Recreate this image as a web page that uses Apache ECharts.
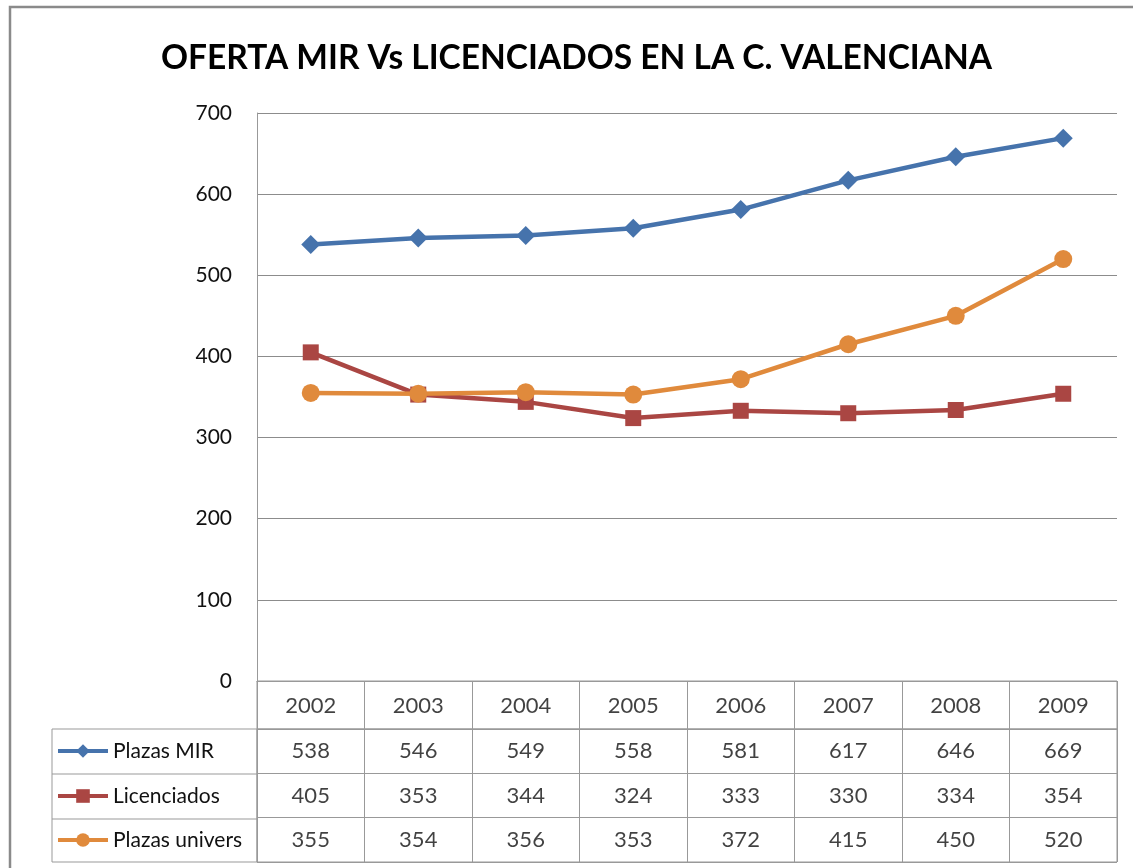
<!DOCTYPE html>
<html>
<head>
<meta charset="utf-8">
<script src="https://cdn.jsdelivr.net/npm/echarts@6/dist/echarts.min.js"></script>
<style>
  html, body { margin: 0; padding: 0; background: #fff; }
  #main { width: 1133px; height: 868px; }
</style>
</head>
<body>
<div id="main"></div>
<script>
var years = ['2002', '2003', '2004', '2005', '2006', '2007', '2008', '2009'];
var seriesNames = ['Plazas MIR', 'Licenciados', 'Plazas univers'];
var plazasMir = [538, 546, 549, 558, 581, 617, 646, 669];
var licenciados = [405, 353, 344, 324, 333, 330, 334, 354];
var plazasUnivers = [355, 354, 356, 353, 372, 415, 450, 520];
var yTicks = [0, 100, 200, 300, 400, 500, 600, 700];

var colors = ['#4673AC', '#AA4643', '#E08A3C'];
var symbols = ['diamond', 'rect', 'circle'];
var symbolSizes = [19, 16, 18];
var FONT = 'Lato, "Open Sans", sans-serif';
var gridColor = '#8c8c8c';

var myChart = echarts.init(document.getElementById('main'));

var allValues = [plazasMir, licenciados, plazasUnivers];

// celdas de la tabla de datos
var headerCells = [];
for (var i = 0; i < years.length; i++) {
  headerCells.push([years[i], 'h', years[i]]);
}
var bodyCells = [];
for (var s = 0; s < seriesNames.length; s++) {
  for (var i = 0; i < years.length; i++) {
    bodyCells.push([years[i], seriesNames[s], allValues[s][i]]);
  }
}

var lineSeries = [];
for (var s = 0; s < seriesNames.length; s++) {
  lineSeries.push({
    name: seriesNames[s],
    type: 'line',
    xAxisIndex: 0,
    yAxisIndex: 0,
    data: allValues[s],
    symbol: symbols[s],
    symbolSize: symbolSizes[s],
    showSymbol: true,
    lineStyle: { width: 4.5, color: colors[s] },
    itemStyle: { color: colors[s] },
    z: 3 + s
  });
}

var cellLabel = {
  show: true,
  position: 'inside',
  fontFamily: FONT,
  fontSize: 22,
  color: '#111',
  formatter: function (p) { return p.value[2]; }
};

var legends = [];
var legendTops = [739, 784, 828];
for (var s = 0; s < seriesNames.length; s++) {
  legends.push({
    data: [seriesNames[s]],
    left: 56,
    top: legendTops[s],
    padding: 0,
    itemWidth: 50,
    itemHeight: 17,
    itemGap: 3,
    lineStyle: { width: 4 },
    textStyle: { fontFamily: FONT, fontSize: 21, color: '#111', lineHeight: 24 }
  });
}

myChart.setOption({
  animation: false,
  backgroundColor: '#fff',
  color: colors,
  title: {
    text: 'OFERTA MIR Vs LICENCIADOS EN LA C. VALENCIANA',
    left: 161,
    top: 41,
    padding: 0,
    textStyle: { fontFamily: FONT, fontSize: 33.5, fontWeight: 'bold', color: '#000' }
  },
  legend: legends,
  grid: [
    { left: 257, right: 16, top: 113, bottom: 187 },
    { left: 257, right: 16, top: 681, height: 48, show: true, borderColor: '#999', borderWidth: 1 },
    { left: 257, right: 16, top: 729, height: 133, show: true, borderColor: '#999', borderWidth: 1 }
  ],
  xAxis: [
    {
      type: 'category', gridIndex: 0, data: years, boundaryGap: true,
      axisLine: { show: true, lineStyle: { color: '#999', width: 1 } },
      axisTick: { show: false }, axisLabel: { show: false }, splitLine: { show: false }
    },
    {
      type: 'category', gridIndex: 1, data: years, boundaryGap: true,
      axisLine: { show: false }, axisTick: { show: false }, axisLabel: { show: false },
      splitLine: { show: true, lineStyle: { color: '#999', width: 1 } }
    },
    {
      type: 'category', gridIndex: 2, data: years, boundaryGap: true,
      axisLine: { show: false }, axisTick: { show: false }, axisLabel: { show: false },
      splitLine: { show: true, lineStyle: { color: '#999', width: 1 } }
    }
  ],
  yAxis: [
    {
      type: 'value', gridIndex: 0, min: yTicks[0], max: yTicks[yTicks.length - 1], interval: 100,
      axisLine: { show: true, lineStyle: { color: '#999', width: 1 } },
      axisTick: { show: false },
      axisLabel: { margin: 25, fontFamily: FONT, fontSize: 21, color: '#111' },
      splitLine: { show: true, lineStyle: { color: gridColor, width: 1 } }
    },
    {
      type: 'category', gridIndex: 1, data: ['h'],
      axisLine: { show: false }, axisTick: { show: false }, axisLabel: { show: false },
      splitLine: { show: false }
    },
    {
      type: 'category', gridIndex: 2, data: seriesNames, inverse: true,
      axisLine: { show: false }, axisTick: { show: false }, axisLabel: { show: false },
      splitLine: { show: true, lineStyle: { color: '#999', width: 1 } }
    }
  ],
  series: lineSeries.concat([
    {
      type: 'scatter', xAxisIndex: 1, yAxisIndex: 1, data: headerCells,
      symbolSize: 1, itemStyle: { color: 'rgba(0,0,0,0)' },
      label: Object.assign({}, cellLabel, { offset: [0, 1] }),
      silent: true, legendHoverLink: false
    },
    {
      type: 'scatter', xAxisIndex: 2, yAxisIndex: 2, data: bodyCells,
      symbolSize: 1, itemStyle: { color: 'rgba(0,0,0,0)' }, label: cellLabel,
      silent: true, legendHoverLink: false
    }
  ]),
  graphic: [
    // marco exterior
    { type: 'rect', shape: { x: 10, y: 7, width: 1300, height: 1000 },
      style: { fill: 'none', stroke: '#8a8a8a', lineWidth: 2.5 }, silent: true },
    // columna de leyenda de la tabla
    { type: 'rect', shape: { x: 52, y: 729, width: 205, height: 133 },
      style: { fill: 'none', stroke: '#999', lineWidth: 1 }, silent: true },
    { type: 'line', shape: { x1: 52, y1: 774, x2: 257, y2: 774 },
      style: { stroke: '#999', lineWidth: 1 }, silent: true },
    { type: 'line', shape: { x1: 52, y1: 819, x2: 257, y2: 819 },
      style: { stroke: '#999', lineWidth: 1 }, silent: true }
  ]
});
</script>
</body>
</html>
